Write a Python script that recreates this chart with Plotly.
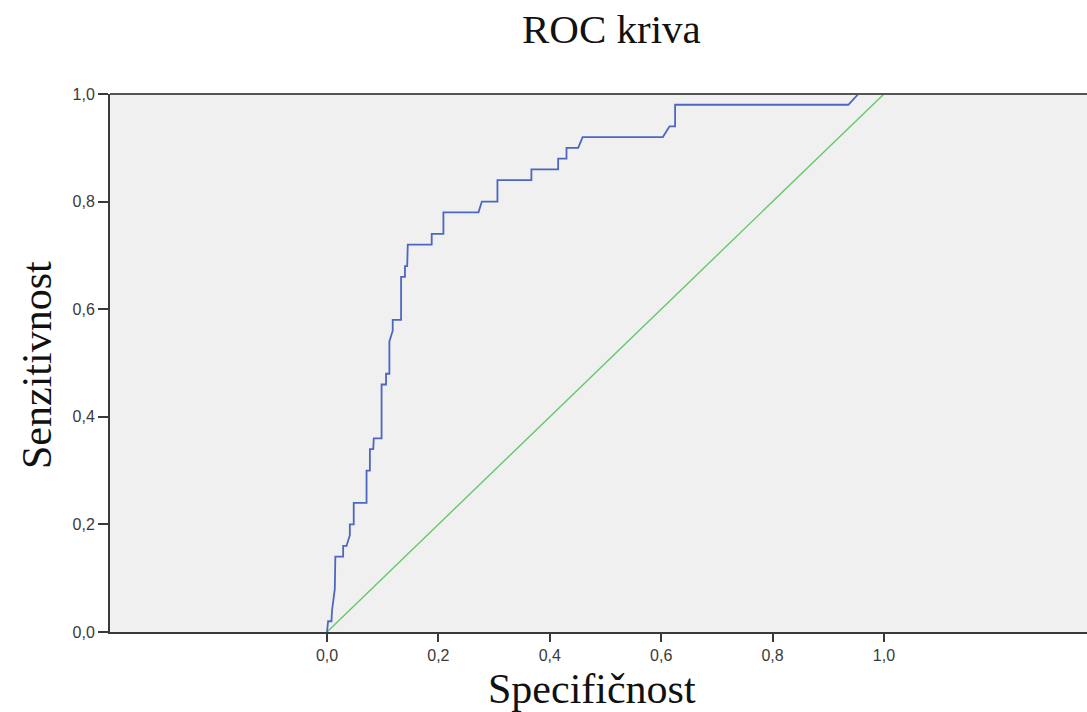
import plotly.graph_objects as go

# ROC curve points (x = 1 - specificity axis as labeled "Specifičnost", y = sensitivity)
roc_x = [0, 0.002, 0.008, 0.009, 0.014, 0.015, 0.029, 0.029, 0.035, 0.041, 0.041, 0.048,
         0.048, 0.071, 0.071, 0.077, 0.077, 0.083, 0.084, 0.098, 0.098, 0.106, 0.106, 0.112,
         0.112, 0.118, 0.118, 0.133, 0.133, 0.140, 0.140, 0.144, 0.145, 0.188, 0.188, 0.209,
         0.209, 0.272, 0.278, 0.306, 0.306, 0.367, 0.367, 0.415, 0.415, 0.430, 0.430, 0.451,
         0.459, 0.603, 0.615, 0.625, 0.625, 0.936, 0.954, 1.0]
roc_y = [0, 0.02, 0.02, 0.04, 0.08, 0.14, 0.14, 0.16, 0.16, 0.18, 0.20, 0.20,
         0.24, 0.24, 0.30, 0.30, 0.34, 0.34, 0.36, 0.36, 0.46, 0.46, 0.48, 0.48,
         0.54, 0.56, 0.58, 0.58, 0.66, 0.66, 0.68, 0.68, 0.72, 0.72, 0.74, 0.74,
         0.78, 0.78, 0.80, 0.80, 0.84, 0.84, 0.86, 0.86, 0.88, 0.88, 0.90, 0.90,
         0.92, 0.92, 0.94, 0.94, 0.98, 0.98, 1.0, 1.0]

ref_x = [0, 1]
ref_y = [0, 1]

tick_vals = [0, 0.2, 0.4, 0.6, 0.8, 1.0]
tick_text = ["0,0", "0,2", "0,4", "0,6", "0,8", "1,0"]

title_text = "ROC kriva"
x_title = "Specifičnost"
y_title = "Senzitivnost"

fig = go.Figure()
fig.add_trace(go.Scatter(x=ref_x, y=ref_y, mode="lines",
                         line=dict(color="#66C86A", width=1.4), hoverinfo="skip",
                         showlegend=False, cliponaxis=True))
fig.add_trace(go.Scatter(x=roc_x, y=roc_y, mode="lines",
                         line=dict(color="#4D66C2", width=1.8), showlegend=False,
                         cliponaxis=False))

axis_font = dict(family="Liberation Sans, Arial, sans-serif", size=16, color="#3a3a3a")
serif = "Liberation Serif, Times New Roman, serif"

fig.update_layout(
    width=1087, height=712,
    margin=dict(l=110, r=0, t=94, b=80),
    paper_bgcolor="white",
    plot_bgcolor="#F0F0F0",
    showlegend=False,
    xaxis=dict(range=[-0.3896, 1.3645], tickvals=tick_vals, ticktext=tick_text,
               showgrid=False, zeroline=False, showline=True, linecolor="#3a3a3a",
               linewidth=2, ticks="outside", ticklen=8, tickwidth=1.5,
               tickcolor="#3a3a3a", tickfont=axis_font),
    yaxis=dict(range=[0, 1], tickvals=tick_vals, ticktext=tick_text,
               showgrid=False, zeroline=False, showline=True, linecolor="#3a3a3a",
               linewidth=2, ticks="outside", ticklen=10, tickwidth=1.5,
               tickcolor="#3a3a3a", tickfont=axis_font),
    shapes=[dict(type="line", xref="paper", yref="paper", x0=0, x1=1, y0=1, y1=1,
                 line=dict(color="#555555", width=2))],
    annotations=[
        dict(text=title_text, xref="paper", yref="paper",
             x=(611 - 110) / 977, y=1 + (94 - 29) / 538, xanchor="center", yanchor="middle",
             showarrow=False, font=dict(family=serif, size=41, color="#111111")),
        dict(text=x_title, xref="paper", yref="paper",
             x=(592 - 110) / 977, y=-(689 - 632) / 538, xanchor="center", yanchor="middle",
             showarrow=False, font=dict(family=serif, size=42, color="#111111")),
        dict(text=y_title, xref="paper", yref="paper", textangle=-90,
             x=-(110 - 37) / 977, y=(632 - 365) / 538, xanchor="center", yanchor="middle",
             showarrow=False, font=dict(family=serif, size=42, color="#111111")),
    ],
)

fig.write_html("out.html")
